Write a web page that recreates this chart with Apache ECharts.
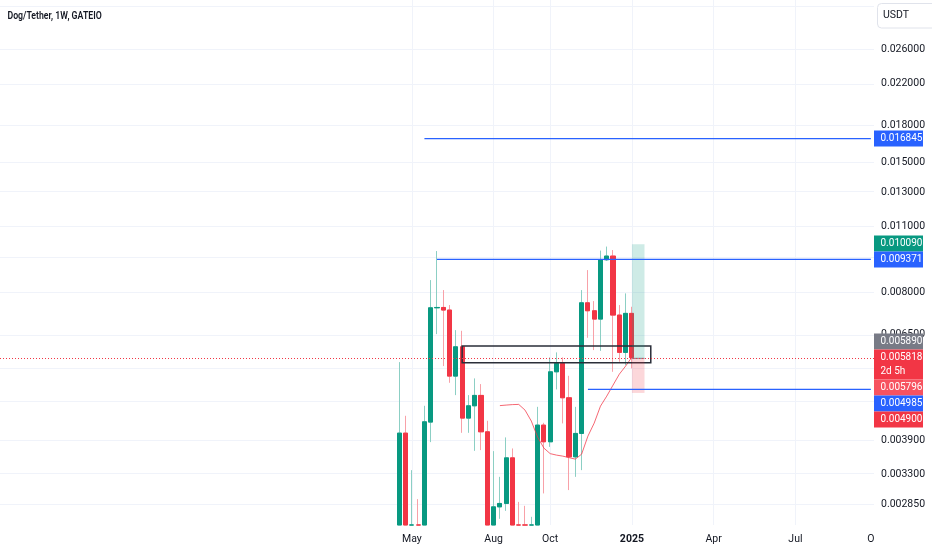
<!DOCTYPE html>
<html>
<head>
<meta charset="utf-8">
<script src="https://cdn.jsdelivr.net/npm/echarts@6/dist/echarts.min.js"></script>
<style>
html,body{margin:0;padding:0;background:#ffffff;}
#chart{width:932px;height:550px;}
</style>
</head>
<body>
<div id="chart"></div>
<script>
// ---------- DATA ----------
const firstCandleWeek = '2024-04-15';   // Monday of first weekly candle
const weeksBeforeFirst = 63;            // empty weeks shown before the first candle
const totalWeeks = 139;                 // weeks visible on the time axis

const open  = [0.00220,0.004031,0.00210,0.00250,0.00220,0.004253,0.007408,0.007420,0.007327,0.005317,
               0.006130,0.004336,0.004603,0.004841,0.004057,0.002500,0.002818,0.002865,0.003575,0.002400,
               0.002200,0.002100,0.002400,0.004191,0.003865,0.005429,0.005655,0.004786,0.003593,0.004025,
               0.007590,0.007302,0.007013,0.009354,0.009523,0.007151,0.005966,0.007210];
const close = [0.004031,0.00230,0.00250,0.00220,0.004259,0.007408,0.007420,0.007327,0.005317,0.006130,
               0.004336,0.004603,0.004841,0.004057,0.002500,0.002818,0.002865,0.003575,0.002400,0.002200,
               0.002100,0.002400,0.004191,0.003865,0.005429,0.005655,0.004786,0.003593,0.004025,0.007590,
               0.007302,0.007013,0.009354,0.009523,0.007151,0.005966,0.007210,0.005818];
const low   = [0.00200,0.00210,0.00190,0.00200,0.00210,0.003859,0.006520,0.005582,0.005147,0.004848,
               0.004037,0.004037,0.003699,0.003712,0.002400,0.002450,0.002659,0.002764,0.002300,0.002100,
               0.002000,0.002000,0.002300,0.003008,0.003771,0.004984,0.004226,0.003057,0.003260,0.003368,
               0.006404,0.006033,0.006010,0.009300,0.005429,0.005700,0.005608,0.005520];
const high  = [0.005691,0.004385,0.003368,0.002926,0.004603,0.008475,0.009758,0.008074,0.007507,0.006647,
               0.006625,0.004848,0.005258,0.005115,0.004280,0.003694,0.003260,0.003948,0.003742,0.002887,
               0.002832,0.002685,0.004580,0.004238,0.005822,0.005966,0.005822,0.005325,0.004580,0.008074,
               0.008896,0.007653,0.009781,0.009973,0.009805,0.007507,0.007945,0.007445];
const maLine = [null,null,null,null,null,null,null,null,null,null,
                null,null,null,null,null,null,0.004607,0.004619,0.004630,0.004634,
                0.004508,0.004274,0.003954,0.003748,0.003649,0.003623,0.003605,0.003579,0.003553,0.003640,
                0.003973,0.004232,0.004596,0.004825,0.005090,0.005368,0.005582,0.005831];

// price scale ticks (log scale)
const gridTickPrices  = [0.032,0.026,0.022,0.018,0.015,0.013,0.011,0.0095,0.008,0.0065,0.0055,0.0047,0.0039,0.0033,0.00285];
const labelTickPrices = [0.026,0.022,0.018,0.015,0.013,0.011,0.008,0.0065,0.0039,0.0033,0.00285];
const axisPriceMin = 0.0025804, axisPriceMax = 0.033018;

// time axis labels
const timeLabelWeeks = ['2024-04-29','2024-07-29','2024-09-30','2024-12-30','2025-03-31','2025-06-30','2025-09-22'];
const timeLabelTexts = ['May','Aug','Oct','2025','Apr','Jul','O'];

// drawings
const levelLines = [ // horizontal rays: [start week, price]
  ['2024-05-13', 0.016845],
  ['2024-05-27', 0.009371],
  ['2024-11-11', 0.004985]
];
const lastPrice = 0.005818;
const zoneBox = {from:'2024-06-24', to:'2025-01-20', top:0.006151, bottom:0.005672};
const position = {from:'2024-12-30', to:'2025-01-13', target:0.010090, entry:0.005796, stop:0.004900};

const priceTags = [
  {price:0.016845, color:'#2962FF', text:'0.016845'},
  {price:0.010090, color:'#089981', text:'0.010090'},
  {price:0.009371, color:'#2962FF', text:'0.009371'},
  {price:0.005890, color:'#787B86', text:'0.005890'},
  {price:0.005818, color:'#F23645', text:'0.005818', sub:'2d 5h'},
  {price:0.005796, color:'#F7525F', text:'0.005796'},
  {price:0.004985, color:'#2962FF', text:'0.004985'},
  {price:0.004900, color:'#F23645', text:'0.004900'}
];
const titleText = 'Dog/Tether, 1W, GATEIO';
const currencyText = 'USDT';

// ---------- BUILD ----------
const L = Math.log;
const LC = v => Math.log(Math.max(v, axisPriceMin)); // clipped to the visible price range
function isoDay(d){return d.toISOString().slice(0,10);}
const firstDate = new Date(firstCandleWeek + 'T00:00:00Z');
const weeks = [];
for (let i = 0; i < totalWeeks; i++) {
  weeks.push(isoDay(new Date(firstDate.getTime() + (i - weeksBeforeFirst) * 7 * 86400000)));
}
const idx = d => weeks.indexOf(d);
const lastIdx = totalWeeks - 1;

const wickData = [], bodyData = [], maData = new Array(totalWeeks).fill(null);
for (let i = 0; i < totalWeeks; i++) { wickData.push('-'); bodyData.push('-'); }
open.forEach((o, i) => {
  const k = weeksBeforeFirst + i;
  const c = close[i];
  // keep the candle's direction even when clipped values coincide
  const up = c >= o;
  let lo = LC(Math.min(o, c)), hi = LC(Math.max(o, c));
  if (hi - lo < 1e-6) hi = lo + 1e-6;
  const oo = up ? lo : hi, cc = up ? hi : lo;
  wickData[k] = [oo, cc, LC(low[i]), LC(high[i])];
  bodyData[k] = [oo, cc, lo, hi];
  maData[k] = maLine[i] == null ? null : L(maLine[i]);
});

function rayData(fromIdx, toIdx, price) {
  const arr = new Array(totalWeeks).fill(null);
  for (let k = fromIdx; k <= toIdx; k++) arr[k] = L(price);
  return arr;
}

const labelIdx = new Map();
timeLabelWeeks.forEach((d, i) => labelIdx.set(idx(d), timeLabelTexts[i]));

const gridRight = 58, gridBottom = 25;
const FONT = 'Roboto, "Liberation Sans", sans-serif';
const UP = '#089981', DOWN = '#F23645';

const gridLineData = gridTickPrices.map(p => ({yAxis: L(p)}))
  .concat(timeLabelWeeks.slice(0, 6).map(d => ({xAxis: idx(d)})));

const raySeries = levelLines.map(([d, p]) => ({
  type: 'line', data: rayData(idx(d), lastIdx, p), z: 6, symbol: 'none', silent: true,
  lineStyle: {color: '#2962FF', width: 1.2}
}));

const chart = echarts.init(document.getElementById('chart'), null, {renderer: 'canvas'});
chart.setOption({
  animation: false,
  backgroundColor: '#ffffff',
  grid: {left: 0, right: gridRight, top: 0, bottom: gridBottom, containLabel: false, outerBoundsMode: 'none'},
  xAxis: {
    type: 'category', data: weeks, boundaryGap: true,
    axisLine: {show: false}, axisTick: {show: false}, splitLine: {show: false},
    axisLabel: {
      interval: (i) => labelIdx.has(i),
      formatter: (v) => { const t = labelIdx.get(idx(v)); return t === '2025' ? '{b|' + t + '}' : t; },
      color: '#131722', fontSize: 10.5, fontFamily: FONT, margin: 9,
      rich: {b: {fontWeight: 'bold', fontSize: 10.5, fontFamily: FONT, color: '#131722'}}
    }
  },
  yAxis: {
    type: 'value', position: 'right', min: L(axisPriceMin), max: L(axisPriceMax), scale: true,
    axisLine: {show: false}, axisTick: {show: false}, splitLine: {show: false},
    axisLabel: {
      customValues: labelTickPrices.map(L),
      formatter: v => Math.exp(v).toFixed(6),
      color: '#131722', fontSize: 10.5, fontFamily: FONT, margin: 7, align: 'left'
    }
  },
  series: [
    { // grid lines
      type: 'line', data: [], z: 1, silent: true,
      markLine: {silent: true, z: 1, symbol: 'none', label: {show: false},
        lineStyle: {color: '#F0F3FA', width: 1, type: 'solid'}, emphasis: {disabled: true},
        data: gridLineData}
    },
    { // wicks (and light body underlay)
      type: 'candlestick', data: wickData, barWidth: '74%', z: 2, silent: true,
      itemStyle: {color: '#8CCFC4', color0: '#F8A1A8', borderColor: '#8CCFC4', borderColor0: '#F8A1A8', borderWidth: 1}
    },
    { // bodies
      type: 'candlestick', data: bodyData, barWidth: '74%', z: 3, silent: true,
      itemStyle: {color: UP, color0: DOWN, borderColor: UP, borderColor0: DOWN, borderWidth: 1}
    },
    { // moving average
      type: 'line', data: maData, z: 4, symbol: 'none', silent: true, connectNulls: false,
      lineStyle: {color: 'rgba(242,54,69,0.75)', width: 1}
    },
    ...raySeries,
    { // position entry line
      type: 'line', data: rayData(idx(position.from), idx(position.to), position.entry), z: 6,
      symbol: 'none', silent: true, lineStyle: {color: '#787B86', width: 1}
    },
    { // zone rectangle + position tool
      type: 'line', data: [], z: 5, silent: true,
      markArea: {silent: true, z: 5, emphasis: {disabled: true},
        data: [
          [{coord: [idx(zoneBox.from), L(zoneBox.top)], itemStyle: {color: 'rgba(0,0,0,0)', borderColor: '#2a2e39', borderWidth: 1.5}},
           {coord: [idx(zoneBox.to), L(zoneBox.bottom)]}],
          [{coord: [idx(position.from), L(position.target)], itemStyle: {color: 'rgba(8,153,129,0.2)'}},
           {coord: [idx(position.to), L(position.entry)]}],
          [{coord: [idx(position.from), L(position.entry)], itemStyle: {color: 'rgba(242,54,69,0.2)'}},
           {coord: [idx(position.to), L(position.stop)]}]
        ]}
    },
    { // last price dotted line
      type: 'line', data: [], z: 7, silent: true,
      markLine: {silent: true, z: 7, symbol: 'none', label: {show: false}, emphasis: {disabled: true},
        lineStyle: {color: '#F23645', width: 1, type: [1, 2]},
        data: [{yAxis: L(lastPrice)}]}
    }
  ]
});

// ---------- price-scale tags, title ----------
const tagH = 16, tagW = 49;
const x0 = chart.getWidth() - gridRight;
const items = priceTags.map(t => Object.assign({}, t, {y: chart.convertToPixel({yAxisIndex: 0}, L(t.price))}));
items.sort((a, b) => a.y - b.y);
items.forEach(t => { t.h = t.sub ? 30 : tagH; });
const a = items.findIndex(t => t.sub);
items[a].top = items[a].y - tagH / 2;
for (let i = a - 1; i >= 0; i--) {
  const bottom = Math.min(items[i].y + tagH / 2, items[i + 1].top);
  items[i].top = bottom - items[i].h;
}
for (let i = a + 1; i < items.length; i++) {
  items[i].top = Math.max(items[i].y - tagH / 2, items[i - 1].top + items[i - 1].h);
}
const TAGFONT = '10px ' + FONT;
function txt(x, y, text, fill, font, extra) {
  return Object.assign({type: 'text', z: 101, x: x, y: y,
    style: {text: text, fill: fill, font: font, align: 'left', verticalAlign: 'middle', textAlign: 'left', textVerticalAlign: 'middle'}}, extra || {});
}
const g = [];
items.forEach(t => {
  g.push({type: 'rect', z: 100, shape: {x: x0, y: t.top, width: tagW, height: t.h}, style: {fill: t.color}});
  g.push(txt(x0 + 6.5, t.top + tagH / 2, t.text, '#ffffff', TAGFONT));
  if (t.sub) g.push(txt(x0 + 6.5, t.top + tagH / 2 + 13.5, t.sub, '#ffffff', TAGFONT));
});
g.push({type: 'rect', z: 100, shape: {x: x0 + 3.5, y: 3.5, width: 60, height: 24.5, r: 4},
  style: {fill: '#ffffff', stroke: '#E0E3EB', lineWidth: 1}});
g.push(txt(x0 + 9, 15.7, currencyText, '#131722', '10.5px ' + FONT));
g.push(txt(6, 16, titleText, '#131722', '600 11.5px ' + FONT, {scaleX: 0.76, originX: 6, originY: 16}));
chart.setOption({graphic: {elements: g}});
</script>
</body>
</html>
